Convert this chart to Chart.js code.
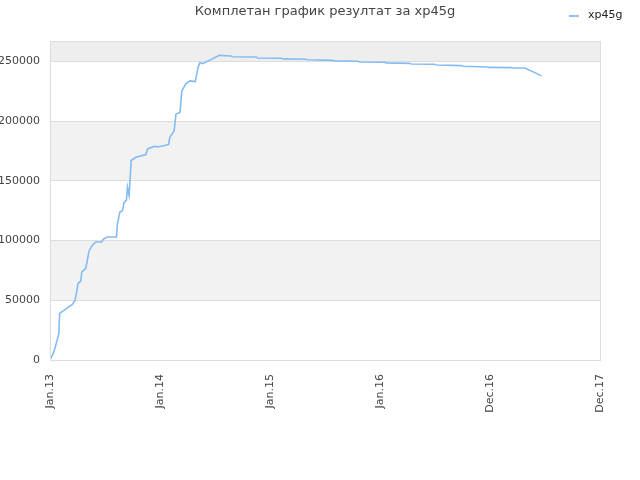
<!DOCTYPE html>
<html>
<head>
<meta charset="utf-8">
<script src="https://cdn.jsdelivr.net/npm/chart.js@4"></script>
<style>
  html, body { margin: 0; padding: 0; background: #fff; }
  #wrap { width: 640px; height: 480px; }
</style>
</head>
<body>
<div id="wrap"><canvas id="grafik" width="640" height="480"></canvas></div>
<script>
// years since Jan.13 and cumulative score
var years = [0, 0.036, 0.057, 0.08, 0.088, 0.11, 0.173, 0.203, 0.228, 0.240, 0.255, 0.280, 0.289, 0.325, 0.355, 0.385, 0.416, 0.471, 0.483, 0.522,
  0.604, 0.613, 0.635, 0.658, 0.674, 0.695, 0.704, 0.719, 0.729, 0.738, 0.781, 0.872, 0.887, 0.947, 0.993, 1.077, 1.090, 1.129, 1.145, 1.181,
  1.199, 1.236, 1.272, 1.321, 1.345, 1.363, 1.387, 1.448, 1.539, 1.646, 1.660, 1.873, 1.888, 2.101, 2.122, 2.329, 2.343, 2.571, 2.587, 2.799,
  2.814, 3.042, 3.057, 3.270, 3.285, 3.497, 3.513, 3.740, 3.755, 3.968, 3.983, 4.196, 4.211, 4.317, 4.469];
var scores = [0, 7000, 14000, 22000, 39000, 40500, 44700, 46500, 50000, 55800, 64000, 66000, 73800, 76600, 91300, 96000, 98800, 98800, 101000, 103000,
  103000, 114000, 123800, 125000, 132000, 133800, 144700, 137700, 153000, 167000, 169700, 172000, 176700, 178800, 178500, 180300, 186400, 192000, 205800, 207200,
  225300, 231300, 233600, 233000, 244700, 248900, 248000, 250800, 255000, 254400, 253800, 253600, 252800, 252500, 252000, 251700, 251300, 250800, 250400, 250000,
  249400, 249200, 248700, 248300, 247800, 247500, 246900, 246400, 245900, 245300, 244900, 244700, 244400, 244400, 237800];
var xLabels = ['Jan.13', 'Jan.14', 'Jan.15', 'Jan.16', 'Dec.16', 'Dec.17'];
var yTicks = [0, 50000, 100000, 150000, 200000, 250000];
var bandFrom = [50000, 150000, 250000];
var bandTo = [100000, 200000, 267000];
var bandColors = ['#f2f2f2', '#f2f2f2', '#eeeeee'];
var title = 'Комплетан график резултат за xp45g';
var seriesName = 'xp45g';

var points = years.map(function (t, i) { return { x: t, y: scores[i] }; });

var frame = {
  id: 'frame',
  beforeDraw: function (chart) {
    var c = chart.ctx, a = chart.chartArea, y = chart.scales.y;
    c.save();
    for (var i = 0; i < bandFrom.length; i++) {
      var top = y.getPixelForValue(bandTo[i]), bot = y.getPixelForValue(bandFrom[i]);
      c.fillStyle = bandColors[i];
      c.fillRect(a.left, top, a.right - a.left, bot - top);
    }
    c.restore();
  },
  afterDraw: function (chart) {
    var c = chart.ctx, a = chart.chartArea;
    c.save();
    c.strokeStyle = '#dddddd';
    c.lineWidth = 1;
    c.strokeRect(a.left + 0.5, a.top + 0.5, a.right - a.left, a.bottom - a.top);
    c.fillStyle = '#444';
    c.font = '13px "DejaVu Sans"';
    c.textAlign = 'center';
    c.textBaseline = 'middle';
    c.fillText(title, (a.left + a.right) / 2, 12);
    c.strokeStyle = '#8ec1f5';
    c.lineWidth = 2;
    c.beginPath();
    c.moveTo(569, 16);
    c.lineTo(579, 16);
    c.stroke();
    c.fillStyle = '#222';
    c.font = '11px "DejaVu Sans"';
    c.textAlign = 'left';
    c.fillText(seriesName, 588, 15);
    c.restore();
  }
};

var ctx = document.getElementById('grafik').getContext('2d');
var grafik = new Chart(ctx, {
  type: 'line',
  data: {
    datasets: [{
      label: seriesName,
      data: points,
      borderColor: '#85bbf3',
      borderWidth: 1.6,
      pointRadius: 0,
      tension: 0,
      fill: false
    }]
  },
  options: {
    responsive: false,
    animation: false,
    layout: { padding: { top: 41, right: 40, left: 0, bottom: 0 } },
    plugins: { legend: { display: false }, title: { display: false }, tooltip: { enabled: false } },
    scales: {
      x: {
        type: 'linear',
        min: 0,
        max: 5,
        ticks: {
          stepSize: 1,
          autoSkip: false,
          maxRotation: 90,
          minRotation: 90,
          padding: 6,
          color: '#444',
          font: { family: 'DejaVu Sans', size: 11 },
          callback: function (v) { return xLabels[v]; }
        },
        grid: { display: false },
        border: { display: false },
        afterFit: function (s) { s.height = 120; }
      },
      y: {
        min: 0,
        max: 267000,
        ticks: {
          padding: 10,
          color: '#444',
          font: { family: 'DejaVu Sans', size: 11 },
          callback: function (v) { return String(v); }
        },
        afterBuildTicks: function (s) { s.ticks = yTicks.map(function (v) { return { value: v }; }); },
        grid: { color: '#dddddd', drawTicks: false },
        border: { display: false },
        afterFit: function (s) { s.width = 50; }
      }
    }
  },
  plugins: [frame]
});
</script>
</body>
</html>
